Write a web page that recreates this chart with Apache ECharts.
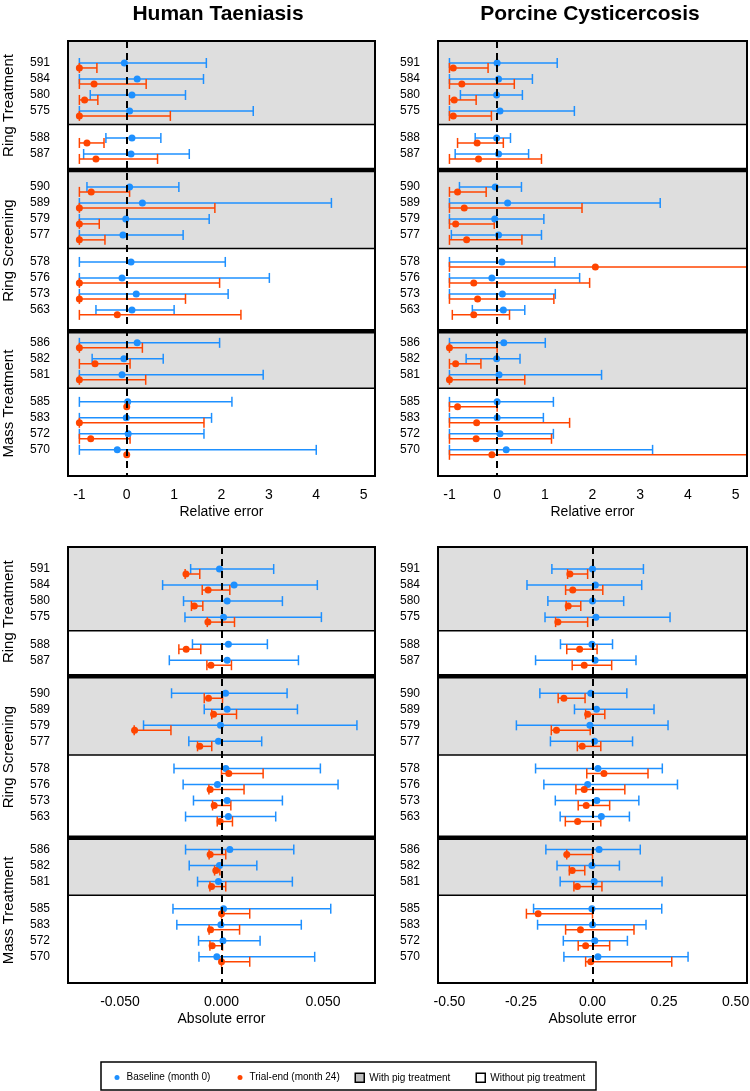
<!DOCTYPE html>
<html><head><meta charset="utf-8">
<script src="https://cdn.jsdelivr.net/npm/echarts@6/dist/echarts.min.js"></script>
<style>html,body{margin:0;padding:0;background:#fff}#chart{width:750px;height:1091px}</style>
</head><body><div id="chart"></div>
<script>
// ---------------- data ----------------
const strategies = ['Ring Treatment', 'Ring Screening', 'Mass Treatment'];
const bandRows = [
  ['591', '584', '580', '575'],
  ['588', '587'],
  ['590', '589', '579', '577'],
  ['578', '576', '573', '563'],
  ['586', '582', '581'],
  ['585', '583', '572', '570']
];
const bandStrategy = [0, 0, 1, 1, 2, 2];
const bandPigTreatment = [true, false, true, false, true, false];
const seriesNames = ['Baseline (month 0)', 'Trial-end (month 24)'];
const bandNames = ['With pig treatment', 'Without pig treatment'];
const panelTitles = ['Human Taeniasis', 'Porcine Cysticercosis'];
const axisTitles = ['Relative error', 'Absolute error'];

const relTicks = [-1, 0, 1, 2, 3, 4, 5];
const htAbsTicks = [-0.05, -0.025, 0, 0.025, 0.05];
const htAbsLabels = [-0.05, 0, 0.05];
const pcAbsTicks = [-0.5, -0.25, 0, 0.25, 0.5];

// rows order: 591 584 580 575 | 588 587 | 590 589 579 577 | 578 576 573 563 | 586 582 581 | 585 583 572 570
// Human Taeniasis - relative error
const htRelBaseMean = [-0.05, 0.22, 0.11, 0.06, 0.11, 0.09, 0.06, 0.33, -0.02, -0.08, 0.09, -0.10, 0.20, 0.11, 0.22, -0.06, -0.10, 0.02, -0.01, 0.03, -0.20];
const htRelBaseLo   = [-1, -1, -0.77, -1, -0.44, -0.91, -0.84, -1, -1, -1, -1, -1, -1, -0.65, -1, -0.73, -1, -1, -1, -1, -1];
const htRelBaseHi   = [1.68, 1.62, 1.24, 2.67, 0.72, 1.32, 1.10, 4.32, 1.74, 1.19, 2.08, 3.01, 2.14, 1.00, 1.96, 0.77, 2.88, 2.22, 1.79, 1.63, 4.00];
const htRelEndMean  = [-1, -0.69, -0.89, -1, -0.84, -0.65, -0.75, -1, -1, -1, null, -1, -1, -0.20, -1, -0.67, -1, 0, -1, -0.76, 0];
const htRelEndLo    = [-1, -1, -1, -1, -1, -1, -1, -1, -1, -1, null, -1, -1, -1, -1, -1, -1, 0, -1, -1, 0];
const htRelEndHi    = [-0.63, 0.41, -0.61, 0.92, -0.48, 0.65, 0.06, 1.86, -0.58, -0.46, null, 1.96, 1.24, 2.41, 0.33, 0.07, 0.40, 0, 1.63, 0.07, 0];

// Porcine Cysticercosis - relative error
const pcRelBaseMean = [0.00, 0.03, -0.01, 0.06, -0.01, 0.03, -0.04, 0.22, -0.05, 0.03, 0.10, -0.11, 0.11, 0.13, 0.14, -0.01, 0.04, 0.00, 0.00, 0.06, 0.19];
const pcRelBaseLo   = [-1, -1, -0.77, -1, -0.46, -0.88, -0.79, -1, -1, -0.96, -1, -1, -1, -0.52, -1, -0.65, -1, -1, -1, -1, -1];
const pcRelBaseHi   = [1.26, 0.74, 0.53, 1.62, 0.28, 0.66, 0.51, 3.42, 0.98, 0.93, 1.21, 1.73, 1.22, 0.58, 1.01, 0.48, 2.19, 1.18, 0.97, 1.18, 3.26];
const pcRelEndMean  = [-0.92, -0.74, -0.90, -0.92, -0.42, -0.39, -0.83, -0.69, -0.87, -0.64, 2.06, -0.49, -0.41, -0.49, -1, -0.87, -1, -0.83, -0.43, -0.44, -0.11];
const pcRelEndLo    = [-1, -1, -1, -1, -0.83, -1, -1, -1, -1, -1, -1, -1, -1, -0.94, -1, -1, -1, -1, -1, -1, -1];
const pcRelEndHi    = [-0.19, 0.36, -0.44, -0.12, 0.13, 0.93, -0.23, 1.78, -0.06, 0.52, 6.0, 1.94, 1.19, 0.26, 0.00, -0.34, 0.58, 0.00, 1.52, 1.14, 6.0];

// Human Taeniasis - absolute error
const htAbsBaseMean = [-0.0010, 0.0062, 0.0028, 0.0010, 0.0034, 0.0028, 0.0020, 0.0028, -0.0005, -0.0015, 0.0021, -0.0020, 0.0028, 0.0034, 0.0041, -0.0010, -0.0015, 0.0010, -0.0003, 0.0007, -0.0023];
const htAbsBaseLo   = [-0.0152, -0.0290, -0.0187, -0.0180, -0.0143, -0.0257, -0.0246, -0.0085, -0.0384, -0.0161, -0.0234, -0.0189, -0.0138, -0.0177, -0.0177, -0.0159, -0.0118, -0.0239, -0.0220, -0.0113, -0.0111];
const htAbsBaseHi   = [0.0257, 0.0472, 0.0300, 0.0492, 0.0226, 0.0379, 0.0323, 0.0374, 0.0667, 0.0198, 0.0487, 0.0574, 0.0300, 0.0267, 0.0356, 0.0174, 0.0349, 0.0538, 0.0393, 0.0190, 0.0459];
const htAbsEndMean  = [-0.0175, -0.0066, -0.0134, -0.0067, -0.0174, -0.0052, -0.0064, -0.0039, -0.0428, -0.0107, 0.0036, -0.0056, -0.0036, -0.0007, -0.0056, -0.0028, -0.0049, 0.0000, -0.0054, -0.0046, 0.0000];
const htAbsEndLo    = [-0.0179, -0.0095, -0.0148, -0.0070, -0.0210, -0.0072, -0.0085, -0.0048, -0.0430, -0.0118, 0.0000, -0.0062, -0.0044, -0.0021, -0.0061, -0.0034, -0.0057, 0.0000, -0.0061, -0.0057, 0.0000];
const htAbsEndHi    = [-0.0107, 0.0041, -0.0092, 0.0064, -0.0102, 0.0049, 0.0005, 0.0074, -0.0249, -0.0048, 0.0205, 0.0111, 0.0046, 0.0054, 0.0021, -0.0008, 0.0021, 0.0139, 0.0089, 0.0005, 0.0139];

// Porcine Cysticercosis - absolute error
const pcAbsBaseMean = [0.000, 0.010, 0.000, 0.012, -0.002, 0.009, -0.006, 0.014, -0.009, 0.007, 0.019, -0.017, 0.015, 0.031, 0.023, -0.002, 0.006, -0.002, 0.000, 0.008, 0.019];
const pcAbsBaseLo   = [-0.142, -0.229, -0.156, -0.166, -0.112, -0.199, -0.184, -0.063, -0.266, -0.147, -0.199, -0.170, -0.130, -0.113, -0.163, -0.124, -0.113, -0.206, -0.192, -0.102, -0.100];
const pcAbsBaseHi   = [0.178, 0.172, 0.109, 0.271, 0.070, 0.152, 0.120, 0.215, 0.264, 0.140, 0.244, 0.297, 0.162, 0.129, 0.167, 0.094, 0.243, 0.242, 0.187, 0.122, 0.334];
const pcAbsEndMean  = [-0.079, -0.069, -0.085, -0.121, -0.045, -0.029, -0.100, -0.017, -0.126, -0.036, 0.040, -0.029, -0.022, -0.052, -0.090, -0.071, -0.053, -0.190, -0.042, -0.024, -0.006];
const pcAbsEndLo    = [-0.087, -0.094, -0.092, -0.129, -0.090, -0.071, -0.120, -0.024, -0.144, -0.053, -0.020, -0.058, -0.050, -0.095, -0.090, -0.081, -0.065, -0.231, -0.094, -0.050, -0.024];
const pcAbsEndHi    = [-0.017, 0.036, -0.041, -0.017, 0.016, 0.067, -0.026, 0.043, -0.008, 0.029, 0.194, 0.113, 0.060, 0.029, 0.000, -0.027, 0.033, 0.000, 0.145, 0.060, 0.277];

// ---------------- layout / style ----------------
const FONT = '"Liberation Sans", Arial, Helvetica, sans-serif';
const COLORS = ['#1E90FF', '#FF4500'];
const BAND_FILL = ['#DEDEDE', '#FFFFFF'];
const LEGEND_FILL = ['#BEBEBE', '#FFFFFF'];
const Y_MAX = 27.2, FIRST_ROW = 1.375, GAP_SAME = 1.69, GAP_NEW = 2.06, DIV_SAME = 0.845, DIV_NEW = [1.0, 1.33];
const END_OFFSET = 0.31; // trial-end bar drawn slightly below baseline
const CAP = 5;

// row / band positions on the (inverted) y axis
const rowLabels = bandRows.flat();
const rowPos = [];
const dividers = [];
const bandSpans = [];
(function () {
  let y = FIRST_ROW, start = 0;
  bandRows.forEach((rows, b) => {
    if (b > 0) y += (bandStrategy[b] === bandStrategy[b - 1]) ? GAP_SAME : GAP_NEW;
    rows.forEach((r, i) => { if (i > 0) y += 1; rowPos.push(y); });
    let end;
    if (b < bandRows.length - 1) {
      const same = bandStrategy[b + 1] === bandStrategy[b];
      end = y + (same ? DIV_SAME : DIV_NEW[bandStrategy[b]]);
      dividers.push([end, same ? 0 : 1]);
    } else end = Y_MAX;
    bandSpans.push([start, end]);
    start = end;
  });
})();
const strategySpans = strategies.map((s, k) => {
  const idx = bandStrategy.map((v, i) => v === k ? i : -1).filter(i => i >= 0);
  return [bandSpans[idx[0]][0], bandSpans[idx[idx.length - 1]][1]];
});
function rowLabelAt(v) {
  for (let i = 0; i < rowPos.length; i++) if (Math.abs(rowPos[i] - v) < 1e-6) return rowLabels[i];
  return '';
}

const panels = [
  { grid: { left: 68, top: 41, width: 307, height: 435 }, xMin: -1.24, xMax: 5.24, ticks: relTicks, labels: relTicks,
    fmt: v => String(v), title: axisTitles[0], strat: true,
    data: [[htRelBaseMean, htRelBaseLo, htRelBaseHi], [htRelEndMean, htRelEndLo, htRelEndHi]] },
  { grid: { left: 438, top: 41, width: 309, height: 435 }, xMin: -1.24, xMax: 5.24, ticks: relTicks, labels: relTicks,
    fmt: v => String(v), title: axisTitles[0], strat: false,
    data: [[pcRelBaseMean, pcRelBaseLo, pcRelBaseHi], [pcRelEndMean, pcRelEndLo, pcRelEndHi]] },
  { grid: { left: 68, top: 547, width: 307, height: 436 }, xMin: -0.0756, xMax: 0.0756, ticks: htAbsTicks, labels: htAbsLabels,
    fmt: v => (v === 0 ? '0.000' : v.toFixed(3)), title: axisTitles[1], strat: true,
    data: [[htAbsBaseMean, htAbsBaseLo, htAbsBaseHi], [htAbsEndMean, htAbsEndLo, htAbsEndHi]] },
  { grid: { left: 438, top: 547, width: 309, height: 436 }, xMin: -0.54, xMax: 0.54, ticks: pcAbsTicks, labels: pcAbsTicks,
    fmt: v => (v === 0 ? '0.00' : v.toFixed(2)), title: axisTitles[1], strat: false,
    data: [[pcAbsBaseMean, pcAbsBaseLo, pcAbsBaseHi], [pcAbsEndMean, pcAbsEndLo, pcAbsEndHi]] }
];

const grids = [], xAxes = [], yAxes = [], series = [];

panels.forEach((p, pi) => {
  grids.push(Object.assign({ show: false, containLabel: false, outerBoundsMode: 'none' }, p.grid));
  xAxes.push({
    type: 'value', gridIndex: pi, min: p.xMin, max: p.xMax,
    axisLine: { show: false }, splitLine: { show: false },
    axisTick: { show: true, length: 8, customValues: p.ticks, lineStyle: { color: '#000', width: 1.5 } },
    axisLabel: { customValues: p.labels, formatter: p.fmt, fontSize: 14, color: '#000', fontFamily: FONT, margin: 12 },
    name: p.title, nameLocation: 'middle', nameGap: 29,
    nameTextStyle: { fontSize: 14, color: '#000', fontFamily: FONT }
  });
  yAxes.push({
    type: 'value', gridIndex: pi, inverse: true, min: 0, max: Y_MAX,
    axisLine: { show: false }, splitLine: { show: false },
    axisTick: { show: true, length: 10, customValues: rowPos, lineStyle: { color: '#000', width: 1.5 } },
    axisLabel: { customValues: rowPos, formatter: rowLabelAt, fontSize: 12, color: '#000', fontFamily: FONT, margin: 18 }
  });

  // shaded / unshaded bands
  [true, false].forEach((pig, k) => {
    series.push({
      type: 'custom', name: bandNames[k], xAxisIndex: pi, yAxisIndex: pi, z: 1, silent: true,
      data: bandSpans.filter((s, b) => bandPigTreatment[b] === pig),
      encode: { y: [0, 1] },
      renderItem: (params, api) => {
        const cs = params.coordSys;
        const y0 = api.coord([0, api.value(0)])[1];
        const y1 = api.coord([0, api.value(1)])[1];
        return { type: 'rect', shape: { x: cs.x, y: Math.min(y0, y1), width: cs.width, height: Math.abs(y1 - y0) },
                 style: { fill: BAND_FILL[k], stroke: 'none' } };
      }
    });
  });

  // error bars + points
  p.data.forEach((d, si) => {
    const [mean, lo, hi] = d;
    const off = si === 1 ? END_OFFSET : 0;
    const barData = [], ptData = [];
    rowPos.forEach((y, i) => {
      if (mean[i] == null) return;
      if (lo[i] !== hi[i]) barData.push([lo[i], hi[i], y + off]);
      ptData.push([mean[i], y + off]);
    });
    const col = COLORS[si];
    series.push({
      type: 'custom', name: seriesNames[si] + ' interval', xAxisIndex: pi, yAxisIndex: pi, z: 3, silent: true,
      data: barData, encode: { x: [0, 1], y: 2 },
      renderItem: (params, api) => {
        const cs = params.coordSys;
        const y = api.value(2);
        const a = api.coord([api.value(0), y]);
        const b = api.coord([api.value(1), y]);
        const xmin = cs.x, xmax = cs.x + cs.width;
        const cl = v => Math.max(xmin, Math.min(xmax, v));
        const st = { stroke: col, lineWidth: 1.5 };
        const ch = [{ type: 'line', shape: { x1: cl(a[0]), y1: a[1], x2: cl(b[0]), y2: b[1] }, style: st }];
        [a, b].forEach(pt => {
          if (pt[0] >= xmin - 0.5 && pt[0] <= xmax + 0.5)
            ch.push({ type: 'line', shape: { x1: pt[0], y1: pt[1] - CAP, x2: pt[0], y2: pt[1] + CAP }, style: st });
        });
        return { type: 'group', children: ch };
      }
    });
    series.push({
      type: 'scatter', name: seriesNames[si], xAxisIndex: pi, yAxisIndex: pi, z: 4, silent: true,
      symbol: 'circle', symbolSize: 7, data: ptData,
      itemStyle: { color: col, borderWidth: 0, opacity: 1 }
    });
  });

  // frame, dividers and zero reference line
  series.push({
    type: 'custom', name: 'frame', xAxisIndex: pi, yAxisIndex: pi, z: 6, silent: true,
    data: [[0, 0]],
    renderItem: (params, api) => {
      const cs = params.coordSys;
      const ch = dividers.map(dv => {
        const y = api.coord([0, dv[0]])[1];
        return { type: 'line', shape: { x1: cs.x, y1: y, x2: cs.x + cs.width, y2: y },
                 style: { stroke: '#000', lineWidth: dv[1] ? 4.5 : 1.5 } };
      });
      ch.push({ type: 'rect', shape: { x: cs.x, y: cs.y, width: cs.width, height: cs.height },
                style: { fill: 'none', stroke: '#000', lineWidth: 2 } });
      return { type: 'group', children: ch };
    },
    markLine: {
      silent: true, symbol: ['none', 'none'], label: { show: false }, animation: false,
      lineStyle: { color: '#000', width: 2, type: [7, 5] },
      emphasis: { disabled: true },
      data: [{ xAxis: 0 }]
    }
  });

  if (p.strat) {
    series.push({
      type: 'custom', name: 'strategy labels', xAxisIndex: pi, yAxisIndex: pi, z: 6, silent: true,
      data: strategySpans, encode: { y: [0, 1] },
      renderItem: (params, api) => {
        const cs = params.coordSys;
        const yc = (api.coord([0, api.value(0)])[1] + api.coord([0, api.value(1)])[1]) / 2;
        return { type: 'text', x: cs.x - 59, y: yc, rotation: Math.PI / 2,
                 style: { text: strategies[params.dataIndex], fill: '#000', font: '15px ' + FONT,
                          align: 'center', verticalAlign: 'middle' } };
      }
    });
  }
});

const dotIcon = 'path://M0,0M9,9M2,4.5a2.5,2.5 0 1,0 5,0a2.5,2.5 0 1,0 -5,0Z';
// legend entries: [name, icon, itemStyle]; one legend component per entry so spacing follows the reference
const legendEntries = [
  [seriesNames[0], dotIcon, { color: COLORS[0], borderWidth: 0 }],
  [seriesNames[1], dotIcon, { color: COLORS[1], borderWidth: 0 }],
  [bandNames[0], 'rect', { color: LEGEND_FILL[0], borderColor: '#000', borderWidth: 1.5 }],
  [bandNames[1], 'rect', { color: LEGEND_FILL[1], borderColor: '#000', borderWidth: 1.5 }]
];
const legendLeft = [112.5, 235.5, 354.5, 475.5];
const legends = legendEntries.map((e, i) => ({
  left: legendLeft[i], top: 1072.5, padding: 0, itemGap: 0, itemWidth: 9, itemHeight: 9, selectedMode: false,
  textStyle: { fontSize: 10, color: '#000', fontFamily: FONT },
  data: [{ name: e[0], icon: e[1], itemStyle: e[2] }]
}));

const option = {
  animation: false,
  backgroundColor: '#fff',
  textStyle: { fontFamily: FONT },
  title: [
    { text: panelTitles[0], left: 218, top: 4, textAlign: 'center', padding: 0,
      textStyle: { fontSize: 21, fontWeight: 'bold', color: '#000', fontFamily: FONT } },
    { text: panelTitles[1], left: 590, top: 4, textAlign: 'center', padding: 0,
      textStyle: { fontSize: 21, fontWeight: 'bold', color: '#000', fontFamily: FONT } }
  ],
  legend: legends,
  graphic: [{
    type: 'rect', silent: true, z: 0,
    shape: { x: 101, y: 1062, width: 495, height: 28 },
    style: { fill: 'none', stroke: '#000', lineWidth: 1.5 }
  }],
  grid: grids, xAxis: xAxes, yAxis: yAxes, series: series
};

const chart = echarts.init(document.getElementById('chart'), null, { renderer: 'canvas' });
chart.setOption(option);
</script>
</body></html>
